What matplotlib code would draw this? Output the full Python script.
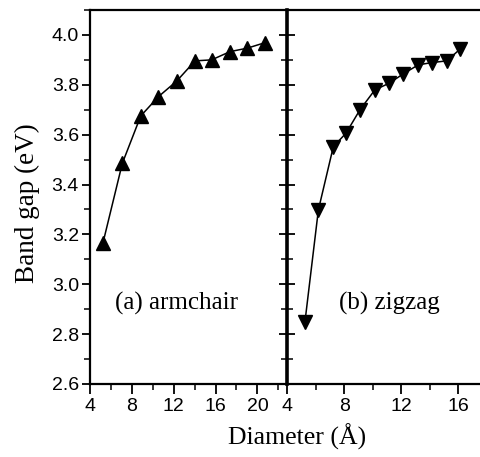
import matplotlib
matplotlib.use("Agg")
import matplotlib.pyplot as plt
from matplotlib.ticker import MultipleLocator

# Data
arm_d = [5.24, 7.09, 8.85, 10.53, 12.29, 14.04, 15.63, 17.38, 19.04, 20.73]
arm_gap = [3.166, 3.485, 3.675, 3.752, 3.815, 3.896, 3.900, 3.933, 3.947, 3.969]

zig_d = [5.24, 6.18, 7.23, 8.12, 9.10, 10.15, 11.14, 12.14, 13.19, 14.13, 15.19, 16.12]
zig_gap = [2.85, 3.298, 3.552, 3.606, 3.70, 3.78, 3.806, 3.844, 3.88, 3.889, 3.896, 3.943]

y_ticks = [2.6, 2.8, 3.0, 3.2, 3.4, 3.6, 3.8, 4.0]
arm_xticks = [4, 8, 12, 16, 20]
zig_xticks = [4, 8, 12, 16]

W, H = 480, 457
fig = plt.figure(figsize=(W / 100, H / 100), dpi=100)

sans = "Liberation Sans"
serif = "Liberation Serif"
tick_fs = 14

axL = fig.add_axes([90 / W, 1 - 384 / H, 197.3 / W, 374 / H])
axR = fig.add_axes([287.3 / W, 1 - 384 / H, 192.7 / W, 374 / H])

for ax in (axL, axR):
    ax.set_ylim(2.6, 4.1)
    ax.yaxis.set_minor_locator(MultipleLocator(0.1))
    ax.xaxis.set_minor_locator(MultipleLocator(2))
    ax.tick_params(axis="x", which="major", direction="out", length=7, width=1.3, top=False, pad=3)
    ax.tick_params(axis="x", which="minor", direction="out", length=4, width=1.1, top=False)
    ax.spines["top"].set_linewidth(1.6)
    ax.spines["bottom"].set_linewidth(1.6)

# Left panel
axL.plot(arm_d, arm_gap, color="black", lw=1.1, marker="^", ms=10.5,
         markerfacecolor="black", markeredgecolor="black")
axL.set_xlim(4, 22.86)
axL.set_xticks(arm_xticks)
axL.set_yticks(y_ticks)
axL.set_yticklabels([f"{v:.1f}" for v in y_ticks], fontfamily=sans, fontsize=tick_fs)
axL.set_xticklabels([str(v) for v in arm_xticks], fontfamily=sans, fontsize=tick_fs)
axL.tick_params(axis="y", which="major", direction="out", length=6, width=1.3, right=False, pad=2)
axL.tick_params(axis="y", which="minor", direction="out", length=4, width=1.1, right=False)
axL.spines["right"].set_visible(False)
axL.spines["left"].set_linewidth(1.6)
axL.text(12.3, 2.925, "(a) armchair", fontfamily=serif, fontsize=18,
         ha="center", va="center")

# Right panel
axR.plot(zig_d, zig_gap, color="black", lw=1.1, marker="v", ms=10.5,
         markerfacecolor="black", markeredgecolor="black")
axR.set_xlim(4, 17.52)
axR.set_xticks(zig_xticks)
axR.set_xticklabels([str(v) for v in zig_xticks], fontfamily=sans, fontsize=tick_fs)
axR.set_yticks(y_ticks)
axR.tick_params(axis="y", which="major", direction="inout", length=12, width=1.3,
                labelleft=False, right=False)
axR.tick_params(axis="y", which="minor", direction="inout", length=8, width=1.1,
                right=False)
axR.spines["right"].set_visible(False)
axR.spines["left"].set_linewidth(2.6)
axR.text(11.15, 2.925, "(b) zigzag", fontfamily=serif, fontsize=18,
         ha="center", va="center")

fig.text(297 / W, 1 - 437 / H, "Diameter (Å)", fontfamily=serif, fontsize=18.5,
         ha="center", va="center")
fig.text(27 / W, 1 - 203 / H, "Band gap (eV)", fontfamily=serif, fontsize=19.5,
         ha="center", va="center", rotation=90)

fig.savefig("out.png", dpi=100)
